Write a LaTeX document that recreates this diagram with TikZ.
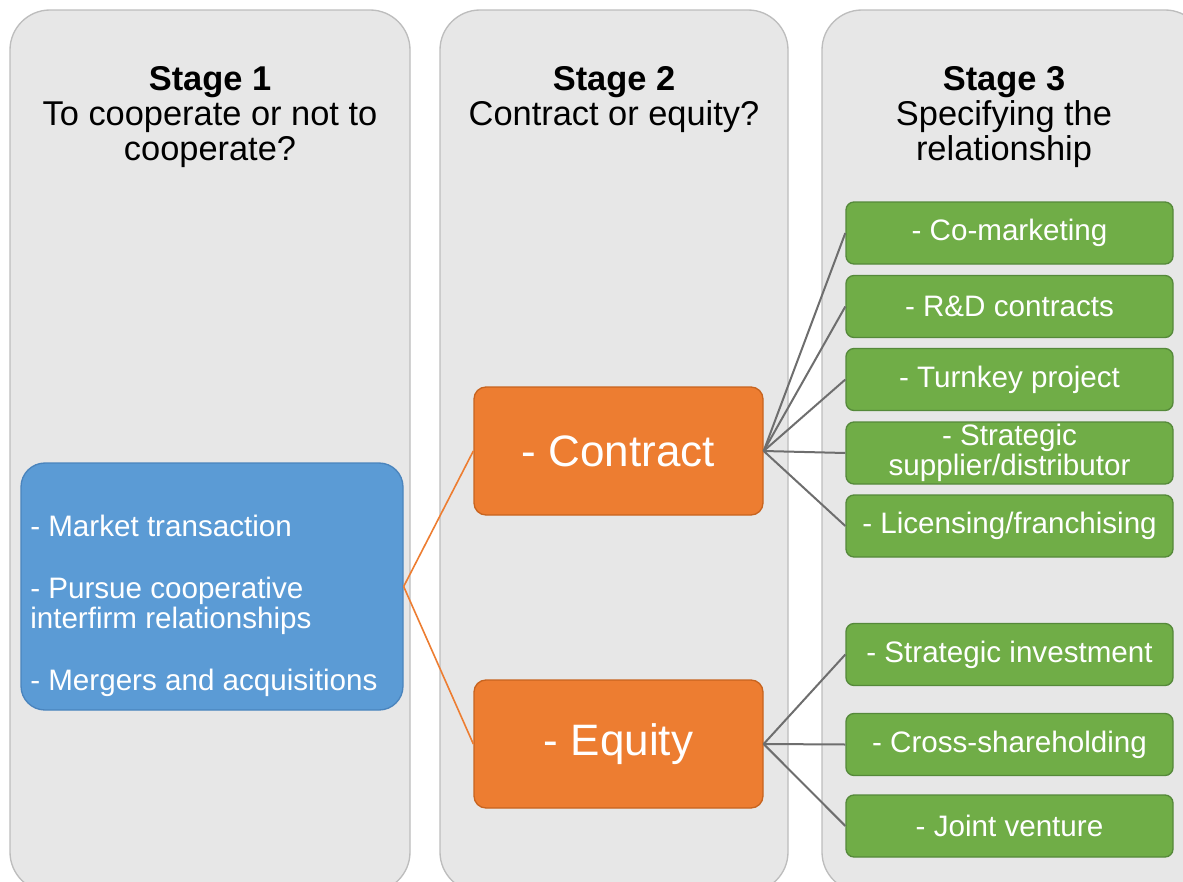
\documentclass[tikz,border=0pt]{standalone}
\usepackage{fontspec}
\setmainfont{Liberation Sans}
\definecolor{panelfill}{HTML}{E7E7E7}
\definecolor{panelline}{HTML}{BDBDBD}
\definecolor{bluefill}{HTML}{5B9BD5}
\definecolor{blueline}{HTML}{4A84BD}
\definecolor{orangefill}{HTML}{ED7D31}
\definecolor{orangeline}{HTML}{C8641F}
\definecolor{greenfill}{HTML}{70AD47}
\definecolor{greenline}{HTML}{55893A}
\definecolor{grayconn}{HTML}{6E6E6E}
\tikzset{
  panel/.style={fill=panelfill, draw=panelline, line width=1pt, rounded corners=30pt},
  titletxt/.style={align=center, inner sep=0pt, font=\fontsize{25.8}{26.25}\selectfont, text=black},
  bluebox/.style={fill=bluefill, draw=blueline, line width=1pt, rounded corners=18pt,
    minimum width=286.5pt, minimum height=185.25pt, inner sep=0pt},
  bluetxt/.style={align=left, inner sep=0pt, font=\fontsize{22.2}{22.5}\selectfont, text=white},
  orangebox/.style={fill=orangefill, draw=orangeline, line width=1pt, rounded corners=9pt,
    minimum width=216.75pt, minimum height=96pt, inner sep=0pt,
    font=\fontsize{33}{36}\selectfont, text=white},
  greenbox/.style={fill=greenfill, draw=greenline, line width=1pt, rounded corners=6pt,
    minimum width=245.25pt, minimum height=46.5pt, inner sep=0pt, align=center,
    font=\fontsize{22.2}{22.5}\selectfont, text=white},
  orangeconn/.style={draw=orangefill, line width=1.2pt},
  grayconn/.style={draw=grayconn, line width=1.5pt}
}
\begin{document}
\begin{tikzpicture}[x=0.75pt,y=-0.75pt]
\useasboundingbox (0,0) rectangle (1183,882);
\fill[white] (0,0) rectangle (1183,882);
\begin{scope}
\clip (0,0) rectangle (1183,882);
\draw[panel] (10,10) rectangle (410,892);
\draw[panel] (440,10) rectangle (788,892);
\draw[panel] (822,10) rectangle (1205,892);
\end{scope}

\node[titletxt, anchor=north] (t1) at (210,66) {\textbf{Stage 1}\\To cooperate or not to\\cooperate?};
\node[titletxt, anchor=north] (t2) at (614,66) {\textbf{Stage 2}\\Contract or equity?};
\node[titletxt, anchor=north] (t3) at (1004,66) {\textbf{Stage 3}\\Specifying the\\relationship};

\node[bluebox] (s1) at (212,586.5) {};
\node[bluetxt, anchor=north west] (s1txt) at (30,514.5) {- Market transaction\\[24pt]- Pursue cooperative\\interfirm relationships\\[24pt]- Mergers and acquisitions};

\node[orangebox] (contract) at (618.5,451) {- Contract};
\node[orangebox] (equity) at (618.5,744) {\raisebox{-3pt}{- Equity}};

\node[greenbox] (g1) at (1009.5,233) {\raisebox{-2pt}{- Co-marketing}};
\node[greenbox] (g2) at (1009.5,306.5) {- R\&D contracts};
\node[greenbox] (g3) at (1009.5,379.5) {\raisebox{-1.5pt}{- Turnkey project}};
\node[greenbox] (g4) at (1009.5,453) {- Strategic\\supplier/distributor};
\node[greenbox] (g5) at (1009.5,526) {\raisebox{-1.5pt}{- Licensing/franchising}};
\node[greenbox] (g6) at (1009.5,654.5) {\raisebox{-1.5pt}{- Strategic investment}};
\node[greenbox] (g7) at (1009.5,744.5) {\raisebox{-1.5pt}{- Cross-shareholding}};
\node[greenbox] (g8) at (1009.5,826) {- Joint venture};

\draw[orangeconn] (s1.east) -- (contract.west);
\draw[orangeconn] (s1.east) -- (equity.west);
\foreach \g in {g1,g2,g3,g4,g5}{\draw[grayconn] (contract.east) -- (\g.west);}
\foreach \g in {g6,g7,g8}{\draw[grayconn] (equity.east) -- (\g.west);}
\end{tikzpicture}
\end{document}
